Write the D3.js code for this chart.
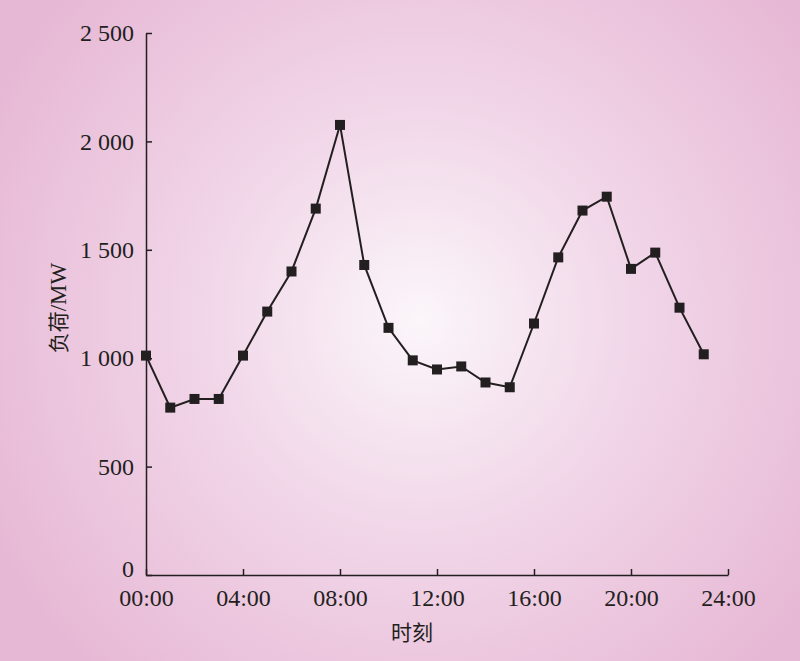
<!DOCTYPE html>
<html><head><meta charset="utf-8">
<script src="https://cdn.jsdelivr.net/npm/d3@7"></script>
<style>html,body{margin:0;padding:0;background:#e9bcd8;}svg{display:block;}</style>
</head><body>
<svg id="chart" width="800" height="661"></svg>
<script>
const hours = [0,1,2,3,4,5,6,7,8,9,10,11,12,13,14,15,16,17,18,19,20,21,22,23];
const load = [1012,772,812,812,1012,1215,1400,1690,2076,1430,1140,990,948,962,888,866,1160,1465,1681,1745,1412,1487,1233,1018];
const xTicks = [0,4,8,12,16,20,24];
const xTickLabels = ["00:00","04:00","08:00","12:00","16:00","20:00","24:00"];
const yTicks = [0,500,1000,1500,2000,2500];
const yTickLabels = ["0","500","1 000","1 500","2 000","2 500"];
const xTitle = "时刻";
const yTitleCJK = "负荷";
const yTitleUnit = "/MW";

const svg = d3.select("#chart");
const W = 800, H = 661;
const defs = svg.append("defs");
const grad = defs.append("radialGradient").attr("id","bg")
  .attr("gradientUnits","userSpaceOnUse").attr("cx",420).attr("cy",320).attr("r",480);
grad.append("stop").attr("offset","0%").attr("stop-color","#fbf6fa");
grad.append("stop").attr("offset","45%").attr("stop-color","#f1d6e8");
grad.append("stop").attr("offset","100%").attr("stop-color","#e7b8d5");
svg.append("rect").attr("width",W).attr("height",H).attr("fill","url(#bg)");

const x = d3.scaleLinear().domain([0,24]).range([146,728]);
const y = d3.scaleLinear().domain([0,2500]).range([575,33]);
const font = "'Liberation Serif','Times New Roman',serif";
const cjk = "'Noto Sans CJK SC',sans-serif";
const ink = "#231f20";

const gx = svg.append("g").attr("transform",`translate(0,${y(0)})`)
  .call(d3.axisBottom(x).tickValues(xTicks).tickFormat((d,i)=>xTickLabels[i]).tickSizeInner(-6).tickSizeOuter(0).tickPadding(10));
const gy = svg.append("g").attr("transform",`translate(${x(0)},0)`)
  .call(d3.axisLeft(y).tickValues(yTicks).tickFormat((d,i)=>yTickLabels[i]).tickSizeInner(-6).tickSizeOuter(0).tickPadding(12));
[gx,gy].forEach(g=>{
  g.select(".domain").attr("stroke",ink).attr("stroke-width",1.5);
  g.selectAll(".tick line").attr("stroke",ink).attr("stroke-width",1.5);
  g.selectAll(".tick text").attr("fill",ink).style("font-family",font).style("font-size","24px");
});
gx.selectAll(".tick text").attr("dy","0.86em");
gy.selectAll(".tick text").attr("dy","0.32em");
gy.selectAll(".tick").filter(d=>d===0).select("text").attr("dy","0.05em");

svg.append("text").attr("x",412).attr("y",640).attr("text-anchor","middle")
  .attr("fill",ink).style("font-family",cjk).style("font-size","21px").text(xTitle);
const yt = svg.append("text").attr("transform","translate(66,308) rotate(-90)").attr("text-anchor","middle")
  .attr("fill",ink);
yt.append("tspan").style("font-family",cjk).style("font-size","21px").text(yTitleCJK);
yt.append("tspan").style("font-family",font).style("font-size","23px").text(yTitleUnit);

const line = d3.line().x((d,i)=>x(hours[i])).y(d=>y(d));
svg.append("path").datum(load).attr("d",line).attr("fill","none").attr("stroke",ink).attr("stroke-width",2);
const s = 10;
svg.selectAll("rect.pt").data(load).enter().append("rect").attr("class","pt")
  .attr("x",(d,i)=>x(hours[i])-s/2).attr("y",d=>y(d)-s/2).attr("width",s).attr("height",s).attr("fill",ink);
</script>
</body></html>
